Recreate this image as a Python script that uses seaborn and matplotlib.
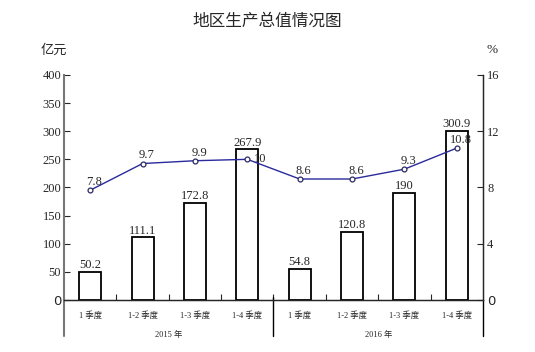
import numpy as np
import pandas as pd
import seaborn as sns
import matplotlib.pyplot as plt

years = ["2015 年", "2016 年"]
quarters = ["1 季度", "1-2 季度", "1-3 季度", "1-4 季度"]
gdp = [50.2, 111.1, 172.8, 267.9, 54.8, 120.8, 190, 300.9]
growth = [7.8, 9.7, 9.9, 10, 8.6, 8.6, 9.3, 10.8]
growth_labels = ["7.8", "9.7", "9.9", "10", "8.6", "8.6", "9.3", "10.8"]
gdp_labels = ["50.2", "111.1", "172.8", "267.9", "54.8", "120.8", "190", "300.9"]

sns.set_style("ticks")
SERIF = ["Liberation Serif", "Noto Sans CJK SC"]
CJK = ["Noto Sans CJK SC", "DejaVu Sans"]
plt.rcParams["font.family"] = SERIF

keys = [y + q for y in years for q in quarters]
df = pd.DataFrame({"period": keys, "gdp": gdp, "growth": growth})

fig = plt.figure(figsize=(5.35, 3.52), dpi=100)
ax = fig.add_axes([0.1196, 0.148, 0.7832, 0.639])

sns.barplot(data=df, x="period", y="gdp", order=keys, ax=ax,
            color="white", edgecolor="black", linewidth=1.3, width=0.42,
            saturation=1)
ax.set_xlim(-0.5, len(keys) - 0.5)
ax.set_ylim(0, 400)
ax.set_yticks(range(0, 401, 50))
ax.set_xlabel("")
ax.set_ylabel("")

for i, lab in enumerate(gdp_labels):
    ax.annotate(lab, (i, gdp[i]), xytext=(0, 0.5), textcoords="offset points",
                ha="center", va="bottom", fontsize=9, family=SERIF)

# growth line on right axis
ax2 = ax.twinx()
sns.lineplot(x=np.arange(len(keys)), y=growth, ax=ax2, color="#2a2a9c",
             linewidth=1.0, marker="o", markersize=3.5,
             markerfacecolor="white", markeredgecolor="#2a2a60",
             markeredgewidth=0.9)
ax2.set_ylim(0, 16)
ax2.set_yticks([0, 4, 8, 12, 16])
for i, lab in enumerate(growth_labels):
    if lab == "10":
        ax2.annotate(lab, (i, growth[i]), xytext=(5, 0), textcoords="offset points",
                     ha="left", va="center", fontsize=9, family=SERIF)
    else:
        ax2.annotate(lab, (i, growth[i]), xytext=(3, 1.5), textcoords="offset points",
                     ha="center", va="bottom", fontsize=9, family=SERIF)

# spines and ticks
for a in (ax, ax2):
    a.spines["top"].set_visible(False)
ax.spines["left"].set_color("#777777")
ax.spines["left"].set_linewidth(1.5)
ax.spines["bottom"].set_linewidth(1.0)
ax2.spines["right"].set_linewidth(1.0)
ax2.spines["left"].set_visible(False)
ax.tick_params(axis="y", direction="in", length=4, width=0.8, labelsize=9, pad=2)
ax2.tick_params(axis="y", direction="in", length=4, width=0.8, labelsize=9, pad=3)

ax.set_xticks(np.arange(len(keys)))
ax.set_xticklabels(quarters * 2, fontsize=6, family=SERIF)
ax.tick_params(axis="x", length=0, pad=8)
ax.set_xticks(np.arange(0.5, len(keys) - 1), minor=True)
ax.tick_params(axis="x", which="minor", direction="in", length=4, width=0.8)

for a in (ax, ax2):
    for t in a.get_yticklabels():
        t.set_family(SERIF)
    a.get_yticklabels()[0].set_family("DejaVu Sans")
    a.get_yticklabels()[0].set_fontsize(9.5)

# group separators below the axis
tr = ax.transAxes
for xpos in (0, 0.5, 1.0):
    ax.plot([xpos, xpos], [0.015 if xpos == 0.5 else 0, -0.16], transform=tr,
            color="#777777" if xpos == 0 else "black",
            linewidth=1.5 if xpos == 0 else 1.0, clip_on=False)
for j, yr in enumerate(years):
    ax.text(0.25 + 0.5 * j, -0.155, yr, transform=tr, ha="center", va="center",
            fontsize=6, family=SERIF)

fig.text(0.5, 0.94, "地区生产总值情况图", ha="center", va="center",
         fontsize=12, family=CJK)
fig.text(0.1, 0.857, "亿元", ha="center", va="center", fontsize=9.5, family=CJK)
fig.text(0.919, 0.857, "%", ha="center", va="center", fontsize=9.5, family=SERIF)

fig.savefig("out.png", dpi=100)
